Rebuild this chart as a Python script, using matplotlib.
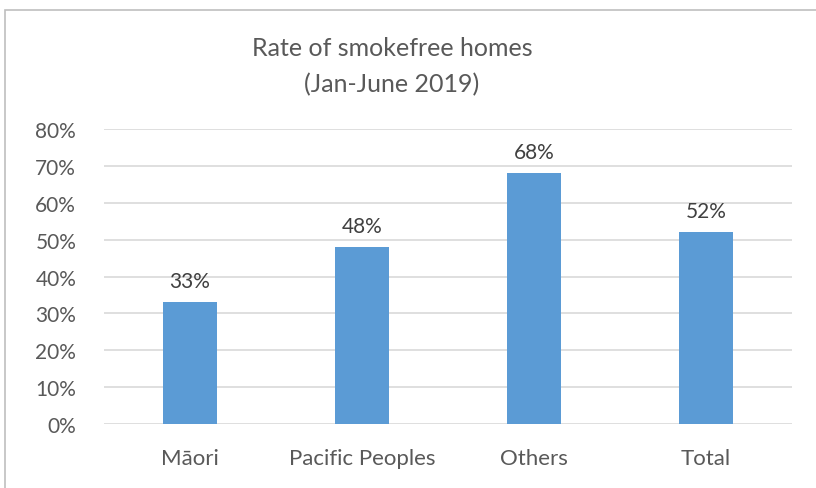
import matplotlib.pyplot as plt
from matplotlib.patches import Rectangle
from matplotlib.ticker import PercentFormatter

categories = ["Māori", "Pacific Peoples", "Others", "Total"]
rates = [33, 48, 68, 52]
yticks = [0, 10, 20, 30, 40, 50, 60, 70, 80]

plt.rcParams["font.family"] = ["Lato", "DejaVu Sans"]

W, H = 816, 489
fig = plt.figure(figsize=(W / 100, H / 100), dpi=100)

# chart border (runs off the right and bottom edges like the screenshot)
fig.patches.append(Rectangle((5 / W, -0.1), 1.2, 1 - 11 / H + 0.1,
                             transform=fig.transFigure, fill=False,
                             edgecolor="#BFBFBF", linewidth=1.2))

ax = fig.add_axes([104 / W, 1 - 425 / H, 688 / W, 295 / H])
x = range(len(categories))
bars = ax.bar(x, rates, width=0.31, color="#5B9BD5")

for b, v in zip(bars, rates):
    ax.text(b.get_x() + b.get_width() / 2, v + 3.0, f"{v}%",
            ha="center", va="bottom", fontsize=15, color="#404040")

ax.set_xlim(-0.5, len(categories) - 0.5)
ax.set_ylim(0, 80)
ax.set_yticks(yticks)
ax.yaxis.set_major_formatter(PercentFormatter(decimals=0))
ax.set_xticks(list(x))
ax.set_xticklabels(categories, fontsize=16)
ax.tick_params(axis="both", length=0, labelcolor="#595959")
ax.tick_params(axis="y", labelsize=15, pad=20)
ax.tick_params(axis="x", pad=17)
ax.grid(axis="y", color="#D9D9D9", linewidth=1.2)
ax.set_axisbelow(True)
for s in ax.spines.values():
    s.set_visible(False)

fig.text(392 / W, 1 - 48 / H, "Rate of smokefree homes", ha="center",
         va="center", fontsize=18, color="#595959")
fig.text(392 / W, 1 - 85 / H, "(Jan-June 2019)", ha="center",
         va="center", fontsize=18, color="#595959")

fig.savefig("out.png", dpi=100)
